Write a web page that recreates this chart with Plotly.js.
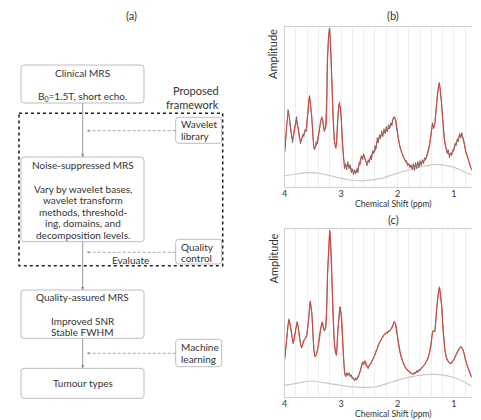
<!DOCTYPE html>
<html><head><meta charset="utf-8">
<script src="https://cdn.plot.ly/plotly-3.0.1.min.js"></script>
<style>html,body{margin:0;padding:0;background:#fff}#chart{width:481px;height:420px}</style>
</head><body><div id="chart"></div>
<script>
// ---------- data: panel (b) ----------
const redPpmB = [4.000,3.936,3.894,3.859,3.817,3.788,3.758,3.717,3.670,3.622,3.563,3.522,3.475,3.433,3.386,3.350,3.327,3.297,3.268,3.244,3.209,3.179,3.149,3.120,3.090,3.061,3.031,3.002,2.972,2.931,2.883,2.842,2.783,2.724,2.677,2.635,2.594,2.547,2.488,2.429,2.399,2.369,2.340,2.310,2.281,2.222,2.163,2.103,2.062,2.033,1.997,1.956,1.897,1.837,1.778,1.719,1.660,1.601,1.542,1.483,1.441,1.406,1.376,1.347,1.317,1.288,1.258,1.229,1.199,1.170,1.128,1.069,1.022,0.969,0.910,0.874,0.833,0.791,0.744,0.685];
const redAmpB = [35,76,57,47,60,67,57,45,52,57,91,70,37,43,57,68,67,57,60,127,159,133,77,47,38,67,85,73,40,20,22,20,15,15,23,30,30,24,28,35,36,43,47,50,52,55,58,63,70,67,53,40,30,24,21,20,22,23,25,30,38,52,62,60,77,95,104,90,67,47,37,32,35,43,50,52,47,35,27,17];
const rawPpmB = [4.00,3.98,3.96,3.94,3.92,3.90,3.88,3.87,3.86,3.85,3.83,3.81,3.79,3.78,3.76,3.74,3.72,3.70,3.68,3.66,3.64,3.62,3.60,3.58,3.56,3.54,3.52,3.50,3.48,3.46,3.44,3.42,3.40,3.38,3.36,3.34,3.32,3.30,3.28,3.26,3.24,3.22,3.20,3.18,3.16,3.14,3.12,3.10,3.08,3.06,3.04,3.02,3.00,2.98,2.96,2.94,2.92,2.90,2.88,2.86,2.84,2.82,2.80,2.78,2.76,2.74,2.72,2.70,2.68,2.66,2.64,2.62,2.60,2.58,2.56,2.54,2.52,2.50,2.48,2.46,2.44,2.42,2.40,2.38,2.36,2.34,2.32,2.30,2.28,2.26,2.24,2.22,2.20,2.18,2.16,2.14,2.12,2.10,2.08,2.06,2.04,2.02,2.00,1.98,1.96,1.94,1.92,1.90,1.88,1.86,1.84,1.82,1.80,1.78,1.76,1.74,1.72,1.70,1.68,1.66,1.64,1.62,1.60,1.58,1.56,1.54,1.52,1.50,1.48,1.46,1.44,1.42,1.40,1.38,1.36,1.34,1.32,1.30,1.28,1.26,1.24,1.22,1.20,1.18,1.16,1.14,1.12,1.10,1.08,1.06,1.04,1.02,1.00,0.98,0.96,0.94,0.92,0.90,0.88,0.86,0.84,0.82,0.80,0.78,0.76,0.74,0.72,0.70,0.685];
const rawAmpB = [34,48,66,77,70,60,52,47,44,50,56,63,70,62,58,50,43,48,52,50,57,55,64,78,91,82,70,52,38,40,45,43,52,58,66,70,64,55,58,80,127,152,158,134,100,70,46,40,42,66,82,80,70,48,30,18,23,17,25,18,22,14,18,12,17,13,18,14,24,22,31,27,33,28,26,21,27,24,31,27,36,33,41,38,49,44,52,48,56,50,58,53,60,55,62,58,64,61,68,70,67,58,52,46,40,36,33,30,28,25,26,21,23,19,22,17,23,16,24,18,25,19,26,21,27,23,29,27,32,35,40,47,56,64,58,63,74,88,97,104,96,84,68,52,44,38,33,37,29,34,31,37,36,43,41,48,45,53,49,54,47,44,38,33,30,26,22,18,16];
const basePpmB = [4.0,3.788,3.552,3.315,3.079,2.842,2.606,2.31,2.10,1.81,1.51,1.28,1.04,0.86,0.685];
const baseAmpB = [10.7,12.7,14,12.7,9.4,6.7,6,8,11.7,16.7,20.7,22.4,20,16,11.7];

// ---------- data: panel (c) ----------
const redPpmC = [4.000,3.965,3.924,3.888,3.847,3.812,3.776,3.741,3.699,3.658,3.610,3.575,3.546,3.516,3.492,3.463,3.421,3.374,3.333,3.297,3.268,3.238,3.203,3.173,3.144,3.114,3.085,3.055,3.020,2.990,2.960,2.925,2.883,2.830,2.771,2.712,2.665,2.618,2.570,2.529,2.476,2.417,2.380,2.340,2.310,2.281,2.222,2.163,2.103,2.056,2.027,1.986,1.938,1.879,1.808,1.737,1.660,1.583,1.512,1.453,1.406,1.371,1.341,1.312,1.282,1.253,1.223,1.193,1.158,1.111,1.051,0.992,0.933,0.874,0.833,0.791,0.744,0.685];
const redAmpC = [38,58,78,68,54,65,75,61,49,56,61,78,96,81,55,40,46,65,75,66,71,125,167,141,81,51,41,68,90,78,41,21,23,21,17,18,25,33,35,30,33,40,45,51,55,58,63,65,68,75,71,55,41,31,26,23,25,28,33,40,51,66,65,85,101,110,95,68,46,36,33,38,46,50,46,36,28,20];
const rawPpmC = [4.00,3.96,3.93,3.90,3.87,3.85,3.83,3.81,3.78,3.76,3.74,3.72,3.70,3.68,3.66,3.63,3.61,3.58,3.55,3.52,3.50,3.48,3.46,3.44,3.42,3.40,3.37,3.34,3.32,3.30,3.28,3.26,3.24,3.22,3.20,3.18,3.16,3.14,3.12,3.10,3.08,3.06,3.04,3.02,3.00,2.98,2.96,2.94,2.92,2.90,2.88,2.86,2.84,2.82,2.80,2.78,2.76,2.74,2.72,2.70,2.68,2.66,2.64,2.62,2.60,2.58,2.56,2.54,2.52,2.50,2.48,2.46,2.44,2.42,2.40,2.38,2.36,2.34,2.32,2.30,2.28,2.26,2.24,2.22,2.20,2.18,2.16,2.14,2.12,2.10,2.08,2.06,2.04,2.02,2.00,1.98,1.96,1.94,1.92,1.90,1.88,1.86,1.84,1.82,1.80,1.78,1.76,1.74,1.72,1.70,1.68,1.66,1.64,1.62,1.60,1.58,1.56,1.54,1.52,1.50,1.48,1.46,1.44,1.42,1.40,1.38,1.36,1.34,1.32,1.30,1.28,1.26,1.24,1.22,1.20,1.18,1.16,1.14,1.12,1.10,1.08,1.06,1.04,1.02,1.00,0.98,0.96,0.94,0.92,0.90,0.88,0.86,0.84,0.82,0.80,0.78,0.76,0.74,0.72,0.70,0.685];
const rawAmpC = [37,60,77,70,60,53,58,66,75,70,60,52,49,53,57,58,62,75,95,84,62,45,40,42,47,52,63,74,70,66,68,85,124,155,166,140,110,80,55,44,42,64,82,90,82,60,40,26,20,24,21,24,20,22,18,19,16,19,17,21,22,27,30,35,32,36,31,30,28,32,32,35,37,40,42,46,48,52,54,56,58,59,62,62,64,63,66,65,67,69,72,75,73,66,58,51,45,40,37,33,31,29,27,26,25,24,23,23,22,24,23,26,24,27,26,28,29,31,32,34,36,38,42,48,56,65,66,65,78,92,102,109,102,92,74,58,47,40,37,35,34,33,35,36,37,40,42,45,47,48,50,49,47,43,38,34,30,27,23,21,19];
const basePpmC = [4.0,3.788,3.552,3.315,3.079,2.842,2.606,2.4,2.10,1.81,1.51,1.25,0.98,0.685];
const baseAmpC = [11.4,13.4,15.7,14,12,10,9.4,9.7,14.7,19.4,22,22,18.7,10.7];

// ---------- tick labels & texts ----------
const tickVals = [4,3,2,1];
const tickText = ['4','3','2','1'];
const panelTitles = ['(a)','(b)','(c)'];
const xTitle = 'Chemical Shift (ppm)';
const yTitle = 'Amplitude';

// ---------- layout helpers (positions only) ----------
const FONT = 'Lato, "Open Sans", sans-serif';
const TXT = '#333';
function rr(x0,y0,x1,y1,r){
  return `M${x0+r},${y0} L${x1-r},${y0} Q${x1},${y0} ${x1},${y0+r} L${x1},${y1-r} Q${x1},${y1} ${x1-r},${y1} L${x0+r},${y1} Q${x0},${y1} ${x0},${y1-r} L${x0},${y0+r} Q${x0},${y0} ${x0+r},${y0} Z`;
}
const shapes = [];
const ann = [];
function box(x0,y0,x1,y1){
  shapes.push({type:'path', xref:'x3', yref:'y3', path:rr(x0,y0,x1,y1,3), line:{color:'#bdbdbd', width:1}, fillcolor:'rgba(0,0,0,0)'});
}
function txt(s,x,y,size,anchor){
  ann.push({text:s, xref:'x3', yref:'y3', x:x, y:y, showarrow:false, xanchor:anchor||'center', yanchor:'middle', font:{family:FONT, size:size||10, color:TXT}});
}
const VX = 82.7;
function vline(y0,y1){
  shapes.push({type:'line', xref:'x3', yref:'y3', x0:VX, x1:VX, y0:y0, y1:y1, line:{color:'#9a9a9a', width:1}});
  shapes.push({type:'path', xref:'x3', yref:'y3', path:`M${VX-1.6},${y1-3} L${VX+1.6},${y1-3} L${VX},${y1} Z`, fillcolor:'#888', line:{width:0}});
}
function harrow(y,xs){
  shapes.push({type:'line', xref:'x3', yref:'y3', x0:xs, x1:88.5, y0:y, y1:y, line:{color:'#a0a0a0', width:0.9, dash:'3px,2px'}});
  shapes.push({type:'path', xref:'x3', yref:'y3', path:`M86.5,${y} L89.5,${y-1.5} L89.5,${y+1.5} Z`, fillcolor:'#999', line:{width:0}});
}

// dotted framework rectangle
shapes.push({type:'rect', xref:'x3', yref:'y3', x0:19, x1:222.7, y0:113.3, y1:265.7, line:{color:'#222', width:1.6, dash:'dot'}});
// boxes
box(21,65,144,103);
box(21,157,144,241.7);
box(21,290,144,338.3);
box(21,368.3,144,398.3);
box(175.7,117.3,221.7,143.3);
box(175.7,239.3,221.7,264);
box(175.7,339.3,221.7,366.7);
// arrows
vline(103,157);
vline(241.7,290);
vline(338.3,368.3);
harrow(130.7,175.7);
harrow(252.3,175.7);
harrow(353.3,175.7);

// texts
txt(panelTitles[0],131.7,15.7,11);
txt('Clinical MRS',82.5,73);
txt('B<sub>0</sub>=1.5T, short echo.',82.5,96);
txt('Proposed',220.5,90.7,11,'right');
txt('framework',220.5,104,11,'right');
txt('Wavelet',178.8,124,10,'left');
txt('library',178.8,136,10,'left');
txt('Noise-suppressed MRS',82.5,164.5);
txt('Vary by wavelet bases,',82.5,188.7);
txt('wavelet transform',82.5,200);
txt('methods, threshold-',82.5,211.5);
txt('ing, domains, and',82.5,223.3);
txt('decomposition levels.',82.5,234.5);
txt('Quality',178.8,246.7,10,'left');
txt('control',178.8,258.3,10,'left');
txt('Evaluate',130.7,260);
txt('Quality-assured MRS',82.5,297.3);
txt('Improved SNR',82.5,320.7);
txt('Stable FWHM',82.5,332);
txt('Machine',178.8,346.7,10,'left');
txt('learning',178.8,358.7,10,'left');
txt('Tumour types',82.5,382.7);

// panel titles b, c, axis titles
function pann(s,x,y,size,extra){
  ann.push(Object.assign({text:s, xref:'paper', yref:'paper', x:x/481, y:1-y/420, showarrow:false, xanchor:'center', yanchor:'middle', font:{family:FONT, size:size, color:TXT}}, extra||{}));
}
pann(panelTitles[1],393.3,16,11);
pann(panelTitles[2],393.3,219,11);
pann(xTitle,393,204,8.5);
pann(xTitle,393,414,8.5);
pann(yTitle,272.5,27.5,11,{textangle:-90, yanchor:'top'});
pann(yTitle,272.5,232,11,{textangle:-90, yanchor:'top'});

const RED = 'rgba(218,62,52,0.88)';
function traces(xa,ya,bp,ba,rp,ra,kp,ka){
  return [
    {x:bp, y:ba, xaxis:xa, yaxis:ya, type:'scatter', mode:'lines', line:{color:'#c9c9c9', width:1.2, shape:'spline'}, hoverinfo:'skip', showlegend:false},
    {x:kp, y:ka, xaxis:xa, yaxis:ya, type:'scatter', mode:'lines', line:{color:'#555', width:0.8}, hoverinfo:'skip', showlegend:false},
    {x:rp, y:ra, xaxis:xa, yaxis:ya, type:'scatter', mode:'lines', line:{color:RED, width:1.1, shape:'spline', smoothing:0.6}, showlegend:false}
  ];
}
const data = [].concat(
  traces('x','y',basePpmB,baseAmpB,redPpmB,redAmpB,rawPpmB,rawAmpB),
  traces('x2','y2',basePpmC,baseAmpC,redPpmC,redAmpC,rawPpmC,rawAmpC)
);

function xax(anchor){
  return {domain:[284.7/481, 471.7/481], range:[4,0.685], anchor:anchor, tickmode:'array', tickvals:tickVals, ticktext:tickText,
    ticks:'', showline:true, linecolor:'#cfcfcf', linewidth:1, mirror:true, showgrid:true, gridcolor:'#eeeeee', zeroline:false,
    minor:{tick0:0, dtick:0.2, showgrid:true, gridcolor:'#eeeeee', ticks:''},
    ticklabelstandoff:-2,
    tickfont:{family:FONT, size:9, color:TXT}};
}
function yax(d0,d1,top,anchor){
  return {domain:[d0,d1], range:[0,top], anchor:anchor, showticklabels:false, showgrid:false, zeroline:false, ticks:'', showline:true, linecolor:'#cfcfcf', linewidth:1};
}
const layout = {
  width:481, height:420, margin:{l:0,r:0,t:0,b:0}, paper_bgcolor:'#fff', plot_bgcolor:'rgba(0,0,0,0)',
  showlegend:false,
  xaxis: xax('y'),
  yaxis: yax(1-186.7/420, 1-26.7/420, 160, 'x'),
  xaxis2: xax('y2'),
  yaxis2: yax(1-396.7/420, 1-228.7/420, 168, 'x2'),
  xaxis3: {domain:[0,1], range:[0,481], visible:false, fixedrange:true, anchor:'y3'},
  yaxis3: {domain:[0,1], range:[420,0], visible:false, fixedrange:true, anchor:'x3'},
  shapes: shapes,
  annotations: ann
};
Plotly.newPlot('chart', data, layout, {displayModeBar:false, staticPlot:true});
</script>
</body></html>
